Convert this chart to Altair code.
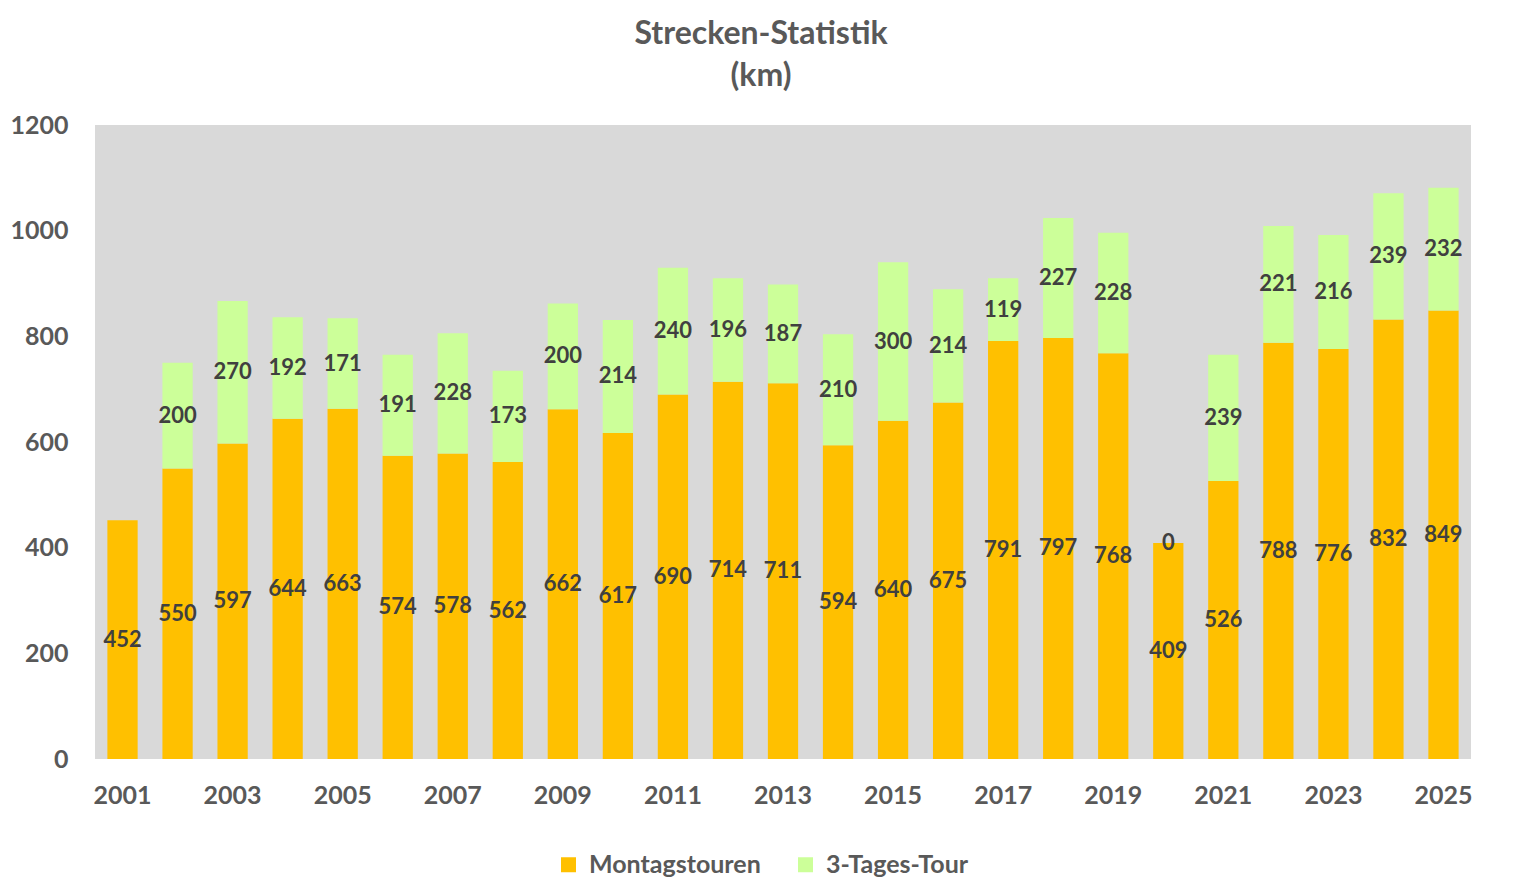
import pandas as pd
import altair as alt

years = list(range(2001, 2026))
montag = [452, 550, 597, 644, 663, 574, 578, 562, 662, 617, 690, 714, 711,
          594, 640, 675, 791, 797, 768, 409, 526, 788, 776, 832, 849]
tages = [None, 200, 270, 192, 171, 191, 228, 173, 200, 214, 240, 196, 187,
         210, 300, 214, 119, 227, 228, 0, 239, 221, 216, 239, 232]
series = ["Montagstouren", "3-Tages-Tour"]
colors = ["#FFC000", "#CCFF99"]
y_ticks = [0, 200, 400, 600, 800, 1000, 1200]

rows = []
for y, m, t in zip(years, montag, tages):
    rows.append({"year": y, "series": series[0], "km": m, "ord": 0})
    if t is not None:
        rows.append({"year": y, "series": series[1], "km": t, "ord": 1})
df = pd.DataFrame(rows)

FONT = "Lato"
GRAY = "#595959"

base = alt.Chart(df).transform_stack(
    stack="km", groupby=["year"], as_=["k0", "k1"],
    sort=[alt.SortField("ord", order="ascending")]
).transform_calculate(mid="(datum.k0 + datum.k1) / 2")

xenc = alt.X("year:O", title=None,
             scale=alt.Scale(paddingInner=0.45, paddingOuter=0.225),
             axis=alt.Axis(labelAngle=0, ticks=False, domain=False,
                           labelPadding=24,
                           labelExpr="datum.value % 2 == 1 ? datum.label : ''"))

bars = base.mark_bar().encode(
    x=xenc,
    y=alt.Y("k0:Q", title=None,
            scale=alt.Scale(domain=[0, 1200]),
            axis=alt.Axis(values=y_ticks, format="d",
                          ticks=False, domain=False, grid=False,
                          labelPadding=27)),
    y2="k1:Q",
    color=alt.Color("series:N", title=None,
                    scale=alt.Scale(domain=series, range=colors),
                    legend=alt.Legend(orient="none", direction="horizontal",
                                      legendX=461, legendY=727,
                                      symbolType="square", symbolSize=225,
                                      symbolStrokeWidth=0, columnPadding=32,
                                      labelOffset=8, labelLimit=400,
                                      labelFontSize=25, labelFont=FONT,
                                      labelFontWeight="bold", labelColor=GRAY)),
)

labels = base.mark_text(font=FONT, fontSize=22, fontWeight="bold",
                        color="#404040").encode(
    x="year:O",
    y="mid:Q",
    text="km:Q",
)

chart = (bars + labels).properties(
    width=1376, height=634,
    padding={"left": 1, "top": 10, "right": 40, "bottom": 10},
    title=alt.Title(["Strecken-Statistik", "(km)"], font=FONT, fontSize=32,
                    fontWeight="bold", color=GRAY, lineHeight=42,
                    anchor="middle", dx=-22, offset=20),
).configure_view(fill="#D9D9D9", strokeWidth=0).configure_axis(
    grid=False, labelFont=FONT, labelFontSize=25, labelFontWeight="bold",
    labelColor=GRAY
)

chart.save("out.html", embed_options={"renderer": "svg", "actions": False})
